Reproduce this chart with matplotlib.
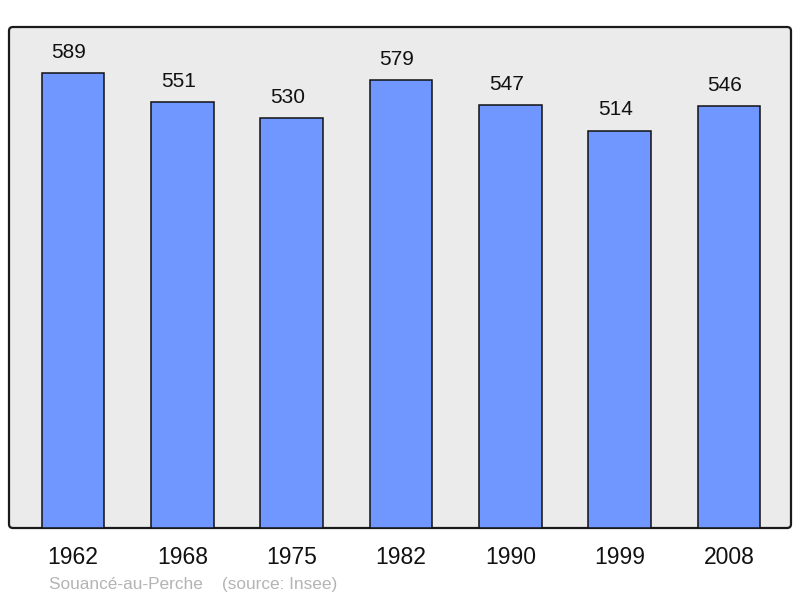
import matplotlib
matplotlib.use("Agg")
import matplotlib.pyplot as plt
from matplotlib.patches import FancyBboxPatch

years = ["1962", "1968", "1975", "1982", "1990", "1999", "2008"]
population = [589, 551, 530, 579, 547, 514, 546]
caption = "Souancé-au-Perche    (source: Insee)"

plt.rcParams['font.family'] = ['Liberation Sans', 'DejaVu Sans']

fig = plt.figure(figsize=(8, 5.98), dpi=100)
ax = fig.add_axes([9/800, 70/598, 782/800, 501/598])
ax.set_facecolor('none')
for s in ax.spines.values():
    s.set_visible(False)

bg = FancyBboxPatch((0, 0), 1, 1, boxstyle="round,pad=0,rounding_size=0.005",
                    mutation_aspect=782/501, transform=ax.transAxes,
                    facecolor='#ebebeb', edgecolor='#1a1a1a', linewidth=1.6,
                    zorder=0, clip_on=False)
ax.add_patch(bg)

x = list(range(len(years)))
bars = ax.bar(x, population, width=0.575, color='#7097ff', edgecolor='#111111',
              linewidth=1.1, zorder=2)
for xi, v in zip(x, population):
    ax.annotate(str(v), (xi, v), xytext=(-3, 8), textcoords='offset points',
                ha='center', va='bottom', fontsize=15, color='#111111')

ax.set_xlim(-0.585, 6.567)
ax.set_ylim(0, 648)
ax.set_xticks(x)
ax.set_xticklabels(years, fontsize=16.5, color='#111111')
ax.tick_params(axis='x', length=0, pad=13)
ax.set_yticks([])

fig.text(49/800, 1 - 585/598, caption, fontsize=12.4, color='#b4b4b4',
         ha='left', va='center')

fig.savefig('out.png', dpi=100)
